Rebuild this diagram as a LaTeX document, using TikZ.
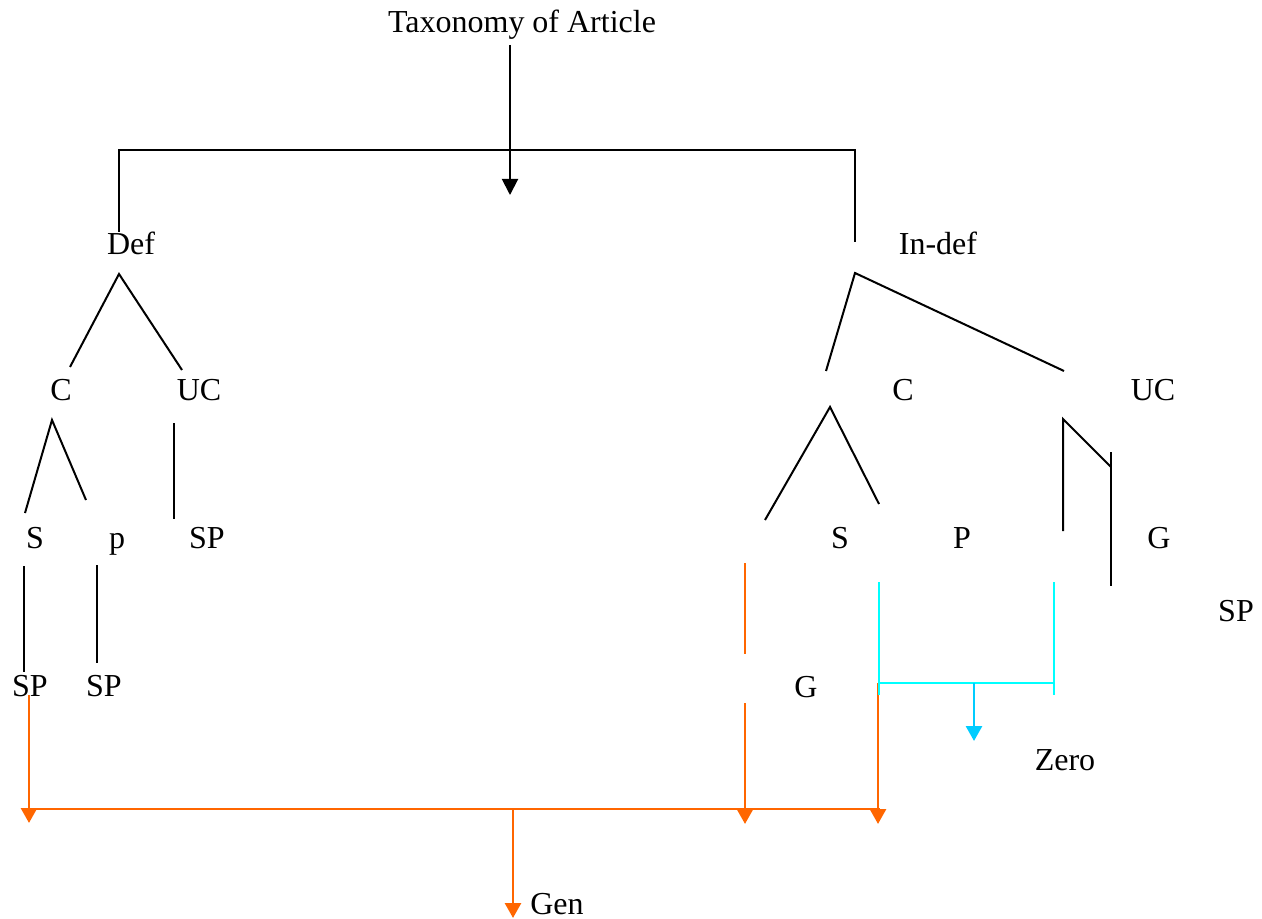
\documentclass[tikz,border=0pt]{standalone}
\usepackage{fontspec}
\setmainfont{Liberation Serif}
\usetikzlibrary{arrows.meta}
\definecolor{orng}{HTML}{FF6600}
\definecolor{cyn}{HTML}{00FFFF}
\definecolor{skyb}{HTML}{00CCFF}
\begin{document}
\begin{tikzpicture}[x=0.5pt,y=-0.5pt,
  lbl/.style={anchor=base,inner sep=0pt,font=\fontsize{16}{19}\selectfont},
  blk/.style={draw=black,line width=1pt},
  org/.style={draw=orng,line width=1.4pt},
  cy/.style={draw=cyn,line width=1pt},
  tipk/.style={-{Triangle[width=8pt,length=8pt]}},
  tipo/.style={-{Triangle[width=8pt,length=7.5pt]}}]
\useasboundingbox (0,0) rectangle (1262,919);
% labels
\node[lbl] (title) at (522,32.5) {Taxonomy of Article};
\node[lbl] (def) at (131,254.5) {Def};
\node[lbl] (indef) at (938,254.5) {In-def};
\node[lbl] (dc) at (61,400.5) {C};
\node[lbl] (duc) at (199,400.5) {UC};
\node[lbl] (ic) at (903,400.5) {C};
\node[lbl] (iuc) at (1153,400.5) {UC};
\node[lbl] (ds) at (35,548.5) {S};
\node[lbl] (dp) at (117,548.5) {p};
\node[lbl] (dsp) at (207,548.5) {SP};
\node[lbl] (is) at (840,548.5) {S};
\node[lbl] (ip) at (962,548.5) {P};
\node[lbl] (ig) at (1159,548.5) {G};
\node[lbl] (isp) at (1236,621.5) {SP};
\node[lbl] (dssp) at (30,696.5) {SP};
\node[lbl] (dpsp) at (104,696.5) {SP};
\node[lbl] (ig2) at (806,697.5) {G};
\node[lbl] (zero) at (1065,770.5) {Zero};
\node[lbl] (gen) at (557,914) {Gen};
% coordinates
\coordinate (t0) at (510,45);
\coordinate (t1) at (510,195);
\coordinate (hl) at (119,150);
\coordinate (hr) at (855,150);
\coordinate (hlb) at (119,232);
\coordinate (hrb) at (855,242);
\coordinate (da) at (119,274);
\coordinate (dl) at (70,367);
\coordinate (dr) at (182,370);
\coordinate (ca) at (52,420);
\coordinate (cl) at (25,513);
\coordinate (cr) at (86,500);
\coordinate (u0) at (174,423);
\coordinate (u1) at (174,519);
\coordinate (s0) at (24,566);
\coordinate (s1) at (24,672);
\coordinate (p0) at (97,565);
\coordinate (p1) at (97,663);
\coordinate (ia) at (855,273);
\coordinate (il) at (826,371);
\coordinate (ir) at (1064,371);
\coordinate (ica) at (830,407);
\coordinate (icl) at (765,520);
\coordinate (icr) at (879,504);
\coordinate (ua) at (1063,419);
\coordinate (ub) at (1063,531);
\coordinate (uc) at (1111,467);
\coordinate (ud) at (1111,452);
\coordinate (ue) at (1111,586);
% orange
\coordinate (o1a) at (29,695);
\coordinate (o1b) at (29,823);
\coordinate (hbl) at (29,809);
\coordinate (hbr) at (880,809);
\coordinate (g0) at (513,809);
\coordinate (g1) at (513,918);
\coordinate (o2a) at (745,563);
\coordinate (o2b) at (745,654);
\coordinate (o3a) at (745,703);
\coordinate (o3b) at (745,824);
\coordinate (o4a) at (878,683);
\coordinate (o4b) at (878,824);
% cyan
\coordinate (c1a) at (879,582);
\coordinate (c1b) at (879,695);
\coordinate (c2a) at (1054,582);
\coordinate (c2b) at (1054,695);
\coordinate (ch0) at (879,683);
\coordinate (ch1) at (1054,683);
\coordinate (za) at (974,683);
\coordinate (zb) at (974,741);
% black lines
\draw[blk,tipk] (t0) -- (t1);
\draw[blk] (hlb) -- (hl) -- (hr) -- (hrb);
\draw[blk] (dl) -- (da) -- (dr);
\draw[blk] (cl) -- (ca) -- (cr);
\draw[blk] (u0) -- (u1);
\draw[blk] (s0) -- (s1);
\draw[blk] (p0) -- (p1);
\draw[blk] (il) -- (ia) -- (ir);
\draw[blk] (icl) -- (ica) -- (icr);
\draw[blk] (ub) -- (ua) -- (uc);
\draw[blk] (ud) -- (ue);
% orange lines
\draw[org] (hbl) -- (hbr);
\draw[org,tipo] (o1a) -- (o1b);
\draw[org,tipo] (g0) -- (g1);
\draw[org] (o2a) -- (o2b);
\draw[org,tipo] (o3a) -- (o3b);
\draw[org,tipo] (o4a) -- (o4b);
% cyan lines
\draw[cy] (c1a) -- (c1b);
\draw[cy] (c2a) -- (c2b);
\draw[cy] (ch0) -- (ch1);
\draw[draw=skyb,line width=1.4pt,-{Triangle[width=8pt,length=7.5pt]},skyb] (za) -- (zb);
\end{tikzpicture}
\end{document}
